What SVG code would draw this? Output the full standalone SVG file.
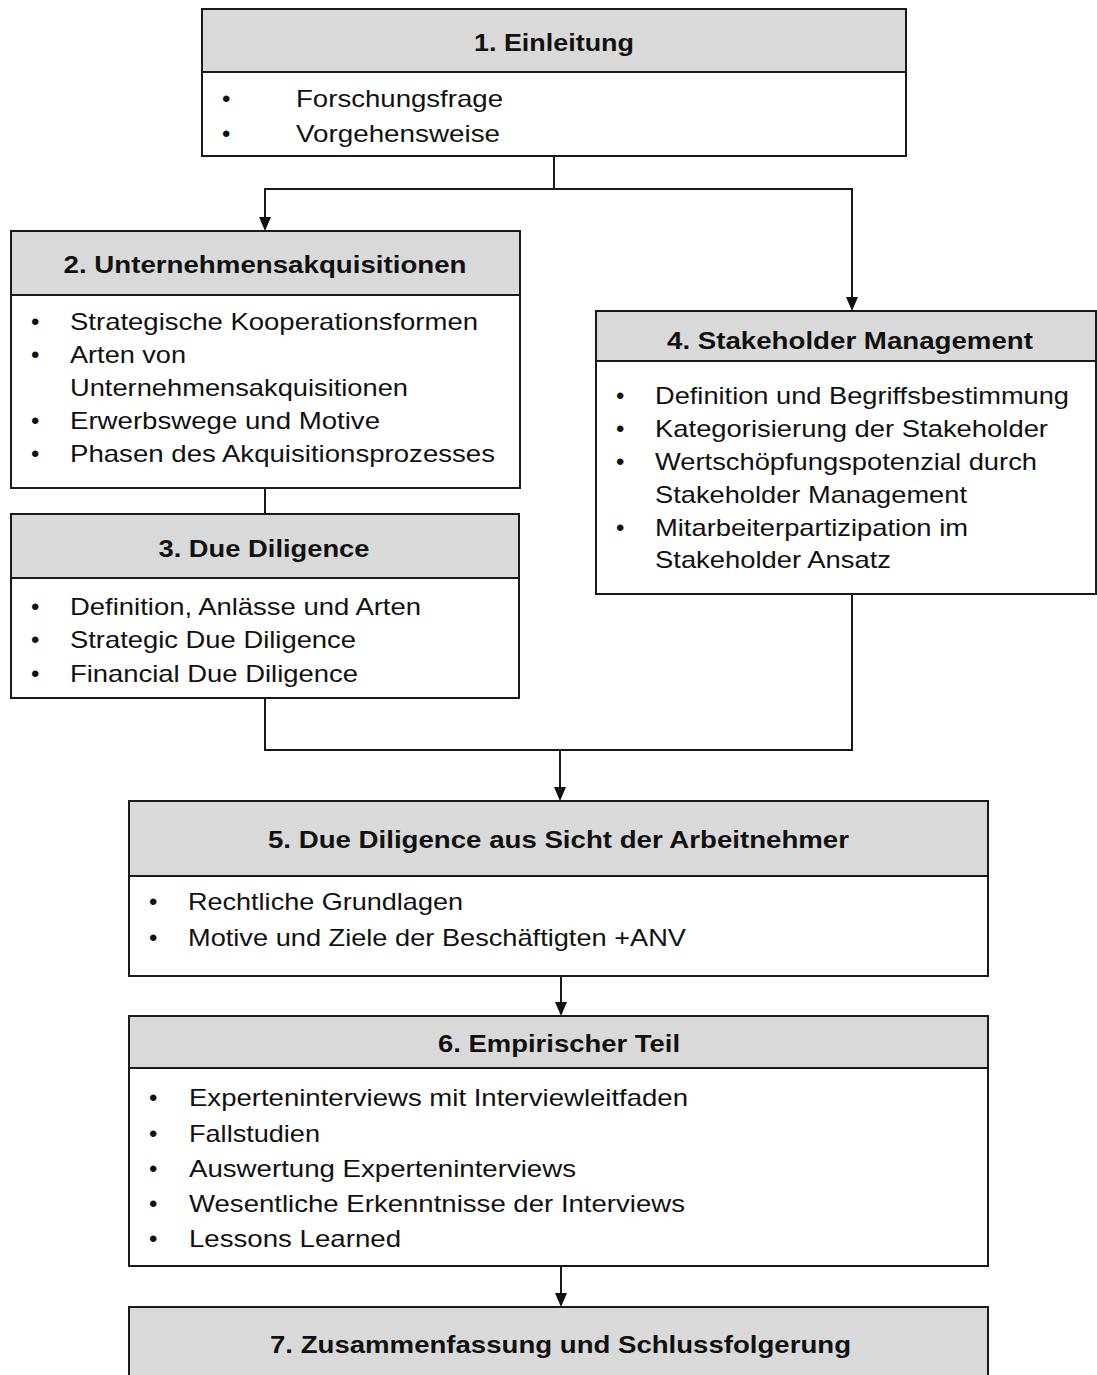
<svg xmlns="http://www.w3.org/2000/svg" width="1097" height="1375" viewBox="0 0 1097 1375">
<style>
.box{fill:#fff;stroke:#1a1a1a;stroke-width:2}
.hdr{fill:#d9d9d9;stroke:#1a1a1a;stroke-width:2}
.t{font-family:"Liberation Sans",Arial,sans-serif;font-size:24px;fill:#111}
.h{font-family:"Liberation Sans",Arial,sans-serif;font-size:24px;font-weight:bold;fill:#111;text-anchor:middle}
.c{fill:none;stroke:#1a1a1a;stroke-width:2}
</style>
<defs>
<marker id="ah" viewBox="0 0 12 14" refX="6" refY="14" markerWidth="12" markerHeight="14" markerUnits="userSpaceOnUse" orient="auto-start-reverse">
<path d="M0,0 L12,0 L6,14 Z" fill="#111"/>
</marker>
</defs>
<rect width="1097" height="1375" fill="#fff"/>
<g id="connectors">
<line class="c" x1="554" y1="156" x2="554" y2="189" stroke-width="1.5"/>
<polyline class="c" points="852,297 852,189 265,189 265,217"/>
<path d="M259,217 L271,217 L265,231 Z" fill="#111"/>
<path d="M846,297 L858,297 L852,311 Z" fill="#111"/>
<line class="c" x1="265" y1="488" x2="265" y2="514"/>
<polyline class="c" points="265,698 265,750 852,750 852,594"/>
<line class="c" x1="560" y1="750" x2="560" y2="787" stroke-width="1.5"/>
<path d="M554,787 L566,787 L560,801 Z" fill="#111"/>
<line class="c" x1="561" y1="976" x2="561" y2="1002" stroke-width="1.5"/>
<path d="M555,1002 L567,1002 L561,1016 Z" fill="#111"/>
<line class="c" x1="561" y1="1266" x2="561" y2="1293" stroke-width="1.5"/>
<path d="M555,1293 L567,1293 L561,1307 Z" fill="#111"/>
</g>
<g id="node1">
<rect class="box" x="202" y="9" width="704" height="147"/>
<rect class="hdr" x="202" y="9" width="704" height="63"/>
<text class="h" x="554" y="51" textLength="160" lengthAdjust="spacingAndGlyphs">1. Einleitung</text>
<text class="t" x="222" y="107">•</text>
<text class="t" x="296" y="107" textLength="207" lengthAdjust="spacingAndGlyphs">Forschungsfrage</text>
<text class="t" x="222" y="142">•</text>
<text class="t" x="296" y="142" textLength="204" lengthAdjust="spacingAndGlyphs">Vorgehensweise</text>
</g>
<g id="node2">
<rect class="box" x="11" y="231" width="509" height="257"/>
<rect class="hdr" x="11" y="231" width="509" height="64"/>
<text class="h" x="265" y="273" textLength="403" lengthAdjust="spacingAndGlyphs">2. Unternehmensakquisitionen</text>
<text class="t" x="31" y="330">•</text>
<text class="t" x="70" y="330" textLength="408" lengthAdjust="spacingAndGlyphs">Strategische Kooperationsformen</text>
<text class="t" x="31" y="363">•</text>
<text class="t" x="70" y="363" textLength="116" lengthAdjust="spacingAndGlyphs">Arten von</text>
<text class="t" x="70" y="396" textLength="338" lengthAdjust="spacingAndGlyphs">Unternehmensakquisitionen</text>
<text class="t" x="31" y="429">•</text>
<text class="t" x="70" y="429" textLength="310" lengthAdjust="spacingAndGlyphs">Erwerbswege und Motive</text>
<text class="t" x="31" y="462">•</text>
<text class="t" x="70" y="462" textLength="425" lengthAdjust="spacingAndGlyphs">Phasen des Akquisitionsprozesses</text>
</g>
<g id="node3">
<rect class="box" x="11" y="514" width="508" height="184"/>
<rect class="hdr" x="11" y="514" width="508" height="64"/>
<text class="h" x="264" y="557" textLength="211" lengthAdjust="spacingAndGlyphs">3. Due Diligence</text>
<text class="t" x="31" y="615">•</text>
<text class="t" x="70" y="615" textLength="351" lengthAdjust="spacingAndGlyphs">Definition, Anlässe und Arten</text>
<text class="t" x="31" y="648">•</text>
<text class="t" x="70" y="648" textLength="286" lengthAdjust="spacingAndGlyphs">Strategic Due Diligence</text>
<text class="t" x="31" y="682">•</text>
<text class="t" x="70" y="682" textLength="288" lengthAdjust="spacingAndGlyphs">Financial Due Diligence</text>
</g>
<g id="node4">
<rect class="box" x="596" y="311" width="500" height="283"/>
<rect class="hdr" x="596" y="311" width="500" height="50"/>
<text class="h" x="850" y="349" textLength="366" lengthAdjust="spacingAndGlyphs">4. Stakeholder Management</text>
<text class="t" x="616" y="404">•</text>
<text class="t" x="655" y="404" textLength="414" lengthAdjust="spacingAndGlyphs">Definition und Begriffsbestimmung</text>
<text class="t" x="616" y="437">•</text>
<text class="t" x="655" y="437" textLength="393" lengthAdjust="spacingAndGlyphs">Kategorisierung der Stakeholder</text>
<text class="t" x="616" y="470">•</text>
<text class="t" x="655" y="470" textLength="382" lengthAdjust="spacingAndGlyphs">Wertschöpfungspotenzial durch</text>
<text class="t" x="655" y="503" textLength="312" lengthAdjust="spacingAndGlyphs">Stakeholder Management</text>
<text class="t" x="616" y="536">•</text>
<text class="t" x="655" y="536" textLength="313" lengthAdjust="spacingAndGlyphs">Mitarbeiterpartizipation im</text>
<text class="t" x="655" y="568" textLength="236" lengthAdjust="spacingAndGlyphs">Stakeholder Ansatz</text>
</g>
<g id="node5">
<rect class="box" x="129" y="801" width="859" height="175"/>
<rect class="hdr" x="129" y="801" width="859" height="75"/>
<text class="h" x="558.5" y="848" textLength="581" lengthAdjust="spacingAndGlyphs">5. Due Diligence aus Sicht der Arbeitnehmer</text>
<text class="t" x="149" y="910">•</text>
<text class="t" x="188" y="910" textLength="275" lengthAdjust="spacingAndGlyphs">Rechtliche Grundlagen</text>
<text class="t" x="149" y="946">•</text>
<text class="t" x="188" y="946" textLength="498" lengthAdjust="spacingAndGlyphs">Motive und Ziele der Beschäftigten +ANV</text>
</g>
<g id="node6">
<rect class="box" x="129" y="1016" width="859" height="250"/>
<rect class="hdr" x="129" y="1016" width="859" height="52"/>
<text class="h" x="559" y="1052" textLength="242" lengthAdjust="spacingAndGlyphs">6. Empirischer Teil</text>
<text class="t" x="149" y="1106">•</text>
<text class="t" x="189" y="1106" textLength="499" lengthAdjust="spacingAndGlyphs">Experteninterviews mit Interviewleitfaden</text>
<text class="t" x="149" y="1142">•</text>
<text class="t" x="189" y="1142" textLength="131" lengthAdjust="spacingAndGlyphs">Fallstudien</text>
<text class="t" x="149" y="1177">•</text>
<text class="t" x="189" y="1177" textLength="387" lengthAdjust="spacingAndGlyphs">Auswertung Experteninterviews</text>
<text class="t" x="149" y="1212">•</text>
<text class="t" x="189" y="1212" textLength="496" lengthAdjust="spacingAndGlyphs">Wesentliche Erkenntnisse der Interviews</text>
<text class="t" x="149" y="1247">•</text>
<text class="t" x="189" y="1247" textLength="212" lengthAdjust="spacingAndGlyphs">Lessons Learned</text>
</g>
<g id="node7">
<rect class="hdr" x="129" y="1307" width="859" height="90"/>
<text class="h" x="560.5" y="1353" textLength="581" lengthAdjust="spacingAndGlyphs">7. Zusammenfassung und Schlussfolgerung</text>
</g>
</svg>
